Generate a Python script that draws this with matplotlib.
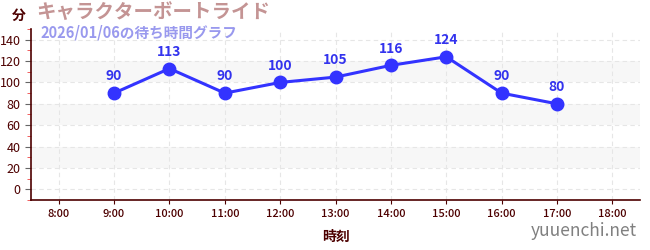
import matplotlib
matplotlib.use("Agg")
import matplotlib.pyplot as plt
from matplotlib.ticker import MultipleLocator

plt.rcParams['font.family'] = ['Noto Sans CJK JP', 'DejaVu Sans']

hours = [9, 10, 11, 12, 13, 14, 15, 16, 17]
waits = [90, 113, 90, 100, 105, 116, 124, 90, 80]
tick_hours = list(range(8, 19))
tick_labels = [f"{h}:00" for h in tick_hours]

title = "キャラクターボートライド"
subtitle = "2026/01/06の待ち時間グラフ"

dark = "#4d0000"

fig = plt.figure(figsize=(6.5, 2.5), dpi=100)
ax = fig.add_axes([0.0477, 0.2, 0.937, 0.684])

ax.set_xlim(7.5, 18.5)
ax.set_ylim(-10, 150)

for lo in (20, 60, 100):
    ax.axhspan(lo, lo + 20, color="#f7f7f7", zorder=0, lw=0)

ax.grid(True, color="#e6e6e6", linestyle=(0, (4, 3)), linewidth=0.8, zorder=0.5)

ax.plot(hours, waits, color="#3333ff", lw=2.2, marker="o", markersize=9, zorder=3)
for h, w in zip(hours, waits):
    ax.annotate(str(w), (h, w), xytext=(0, 7), textcoords="offset points",
                ha="center", va="bottom", color="#3333ee", fontsize=10,
                fontweight="bold")

ax.set_xticks(tick_hours)
ax.set_xticklabels(tick_labels, fontweight="medium")
ax.yaxis.set_major_locator(MultipleLocator(20))
ax.yaxis.set_minor_locator(MultipleLocator(10))
ax.tick_params(axis="x", colors=dark, labelsize=8, length=3)
ax.tick_params(axis="y", which="major", colors="#666666", labelcolor=dark,
               labelsize=9, length=4)
ax.tick_params(axis="y", which="minor", colors="#ee4444", length=3)
for lbl in ax.get_xticklabels():
    lbl.set_color(dark)

for s in ("top", "right"):
    ax.spines[s].set_visible(False)
for s in ("left", "bottom"):
    ax.spines[s].set_color(dark)
    ax.spines[s].set_linewidth(1.2)

ax.set_xlabel("時刻", color=dark, fontsize=10, fontweight="bold", labelpad=8)

fig.text(0.018, 0.935, "分", color=dark, fontsize=10, fontweight="bold",
         ha="left", va="center")
fig.text(0.055, 0.95, title, color="#c49494", fontsize=14, fontweight="bold",
         ha="left", va="center")
fig.text(0.063, 0.872, subtitle, color="#9999ee", fontsize=10.5,
         fontweight="bold", ha="left", va="center")
fig.text(0.98, 0.075, "yuuenchi.net", color="#808080", fontsize=12.5,
         ha="right", va="center")

fig.savefig("out.png", dpi=100)
